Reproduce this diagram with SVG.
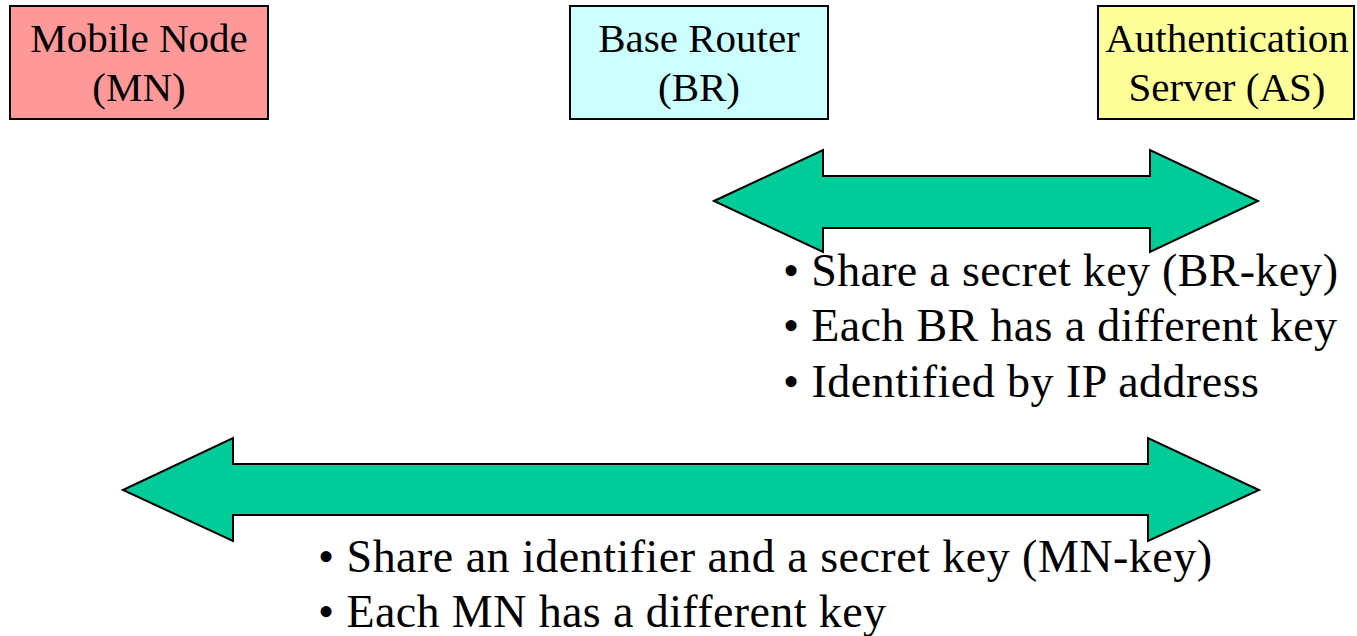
<svg xmlns="http://www.w3.org/2000/svg" width="1357" height="636" viewBox="0 0 1357 636">
<style>
.box{stroke:#000;stroke-width:2}
.lbl{font-family:"Liberation Serif","Times New Roman",serif;font-size:41px;fill:#000;text-anchor:middle}
.arrow{fill:#00CC99;stroke:#000;stroke-width:2;stroke-linejoin:miter}
.bul{font-family:"Liberation Serif","Times New Roman",serif;font-size:46px;fill:#000}
</style>
<rect width="1357" height="636" fill="#fff"/>
<g id="connectors">
<polygon class="arrow" points="714,201 823,150 823,176 1150,176 1150,150 1258,201 1150,252 1150,228 823,228 823,252"/>
<polygon class="arrow" points="123,490 233,438 233,464 1148,464 1148,438 1259,490 1148,541 1148,515 233,515 233,541"/>
</g>
<g id="mn">
<rect class="box" x="10" y="6" width="258" height="113" fill="#FF9999"/>
<text class="lbl" x="139" y="52">Mobile Node</text>
<text class="lbl" x="139" y="101">(MN)</text>
</g>
<g id="br">
<rect class="box" x="570" y="6" width="258" height="113" fill="#CCFFFF"/>
<text class="lbl" x="699" y="52">Base Router</text>
<text class="lbl" x="699" y="101">(BR)</text>
</g>
<g id="as">
<rect class="box" x="1098" y="6" width="256" height="113" fill="#FFFF99"/>
<text class="lbl" x="1227" y="52">Authentication</text>
<text class="lbl" x="1227" y="101">Server (AS)</text>
</g>
<g id="notes">
<text class="bul" x="783" y="286" textLength="555">• Share a secret key (BR-key)</text>
<text class="bul" x="783" y="341" textLength="554">• Each BR has a different key</text>
<text class="bul" x="783" y="397" textLength="476">• Identified by IP address</text>
<text class="bul" x="318" y="572" textLength="894">• Share an identifier and a secret key (MN-key)</text>
<text class="bul" x="318" y="627" textLength="568">• Each MN has a different key</text>
</g>
</svg>
